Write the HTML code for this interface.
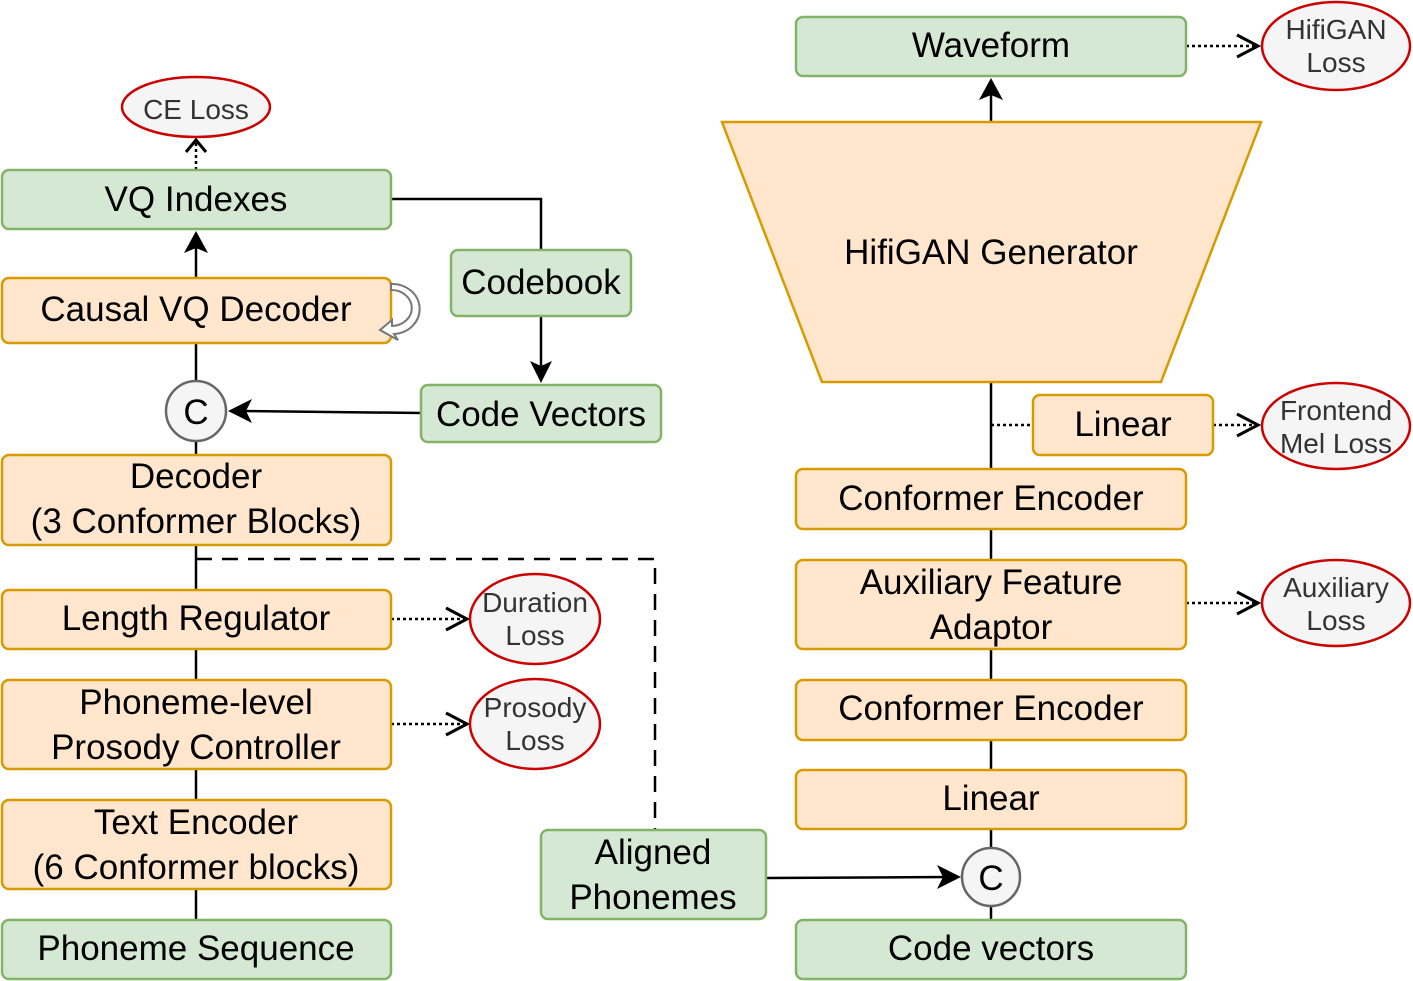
<!DOCTYPE html>
<html><head><meta charset="utf-8"><style>body{margin:0;background:#fff}svg{display:block}text{font-family:"Liberation Sans",Arial,sans-serif}</style></head><body>
<svg width="1413" height="981" viewBox="0 0 1413 981" xmlns="http://www.w3.org/2000/svg">
<g stroke="#000" stroke-width="2.5" fill="none">
<line x1="196" y1="278" x2="196" y2="240"/>
<line x1="196" y1="343" x2="196" y2="381"/>
<line x1="196" y1="441" x2="196" y2="455"/>
<line x1="196" y1="545" x2="196" y2="590"/>
<line x1="196" y1="649" x2="196" y2="680"/>
<line x1="196" y1="769" x2="196" y2="800"/>
<line x1="196" y1="889" x2="196" y2="920"/>
<polyline points="391,199 541,199 541,250"/>
<line x1="541" y1="316" x2="541" y2="372"/>
<line x1="421" y1="413" x2="240" y2="411"/>
<polyline points="196,559 655,559 655,830" stroke-dasharray="16,10"/>
<line x1="766" y1="878" x2="948" y2="877"/>
<line x1="991" y1="122" x2="991" y2="90"/>
<line x1="991" y1="382" x2="991" y2="469"/>
<line x1="991" y1="529" x2="991" y2="560"/>
<line x1="991" y1="649" x2="991" y2="680"/>
<line x1="991" y1="740" x2="991" y2="770"/>
<line x1="991" y1="829" x2="991" y2="848"/>
<line x1="991" y1="906" x2="991" y2="920"/>
<g stroke-dasharray="3,3">
<line x1="196" y1="170" x2="196" y2="142"/>
<line x1="391" y1="619" x2="466" y2="619"/>
<line x1="391" y1="724" x2="466" y2="724"/>
<line x1="1186" y1="46" x2="1257" y2="46"/>
<line x1="991" y1="425" x2="1033" y2="425"/>
<line x1="1213" y1="425" x2="1257" y2="425"/>
<line x1="1186" y1="603" x2="1257" y2="603"/>
</g>
<g stroke-width="3">
<polyline points="186,152 196,140 206,152"/>
<polyline points="446,608 467,619 446,630"/>
<polyline points="446,713 467,724 446,735"/>
<polyline points="1237,35 1258,46 1237,57"/>
<polyline points="1237,414 1258,425 1237,436"/>
<polyline points="1237,592 1258,603 1237,614"/>
</g>
</g>
<g fill="#000">
<path d="M196,231 L208,253 L196,248 L184,253 Z"/>
<path d="M991,78 L1003,100 L991,95 L979,100 Z"/>
<path d="M541,383 L530,361 L541,366 L552,361 Z"/>
<path d="M228,411 L252,399 L246,411 L252,423 Z"/>
<path d="M961,877 L937,865 L943,877 L937,889 Z"/>
</g>
<g stroke-width="2.5">
<g fill="#d5e8d4" stroke="#82b366">
<rect x="2" y="170" width="389" height="59" rx="7"/>
<rect x="2" y="920" width="389" height="59" rx="7"/>
<rect x="451" y="250" width="180" height="66" rx="7"/>
<rect x="421" y="385" width="240" height="57" rx="7"/>
<rect x="541" y="830" width="225" height="89" rx="7"/>
<rect x="796" y="17" width="390" height="59" rx="7"/>
<rect x="796" y="920" width="390" height="59" rx="7"/>
</g>
<g fill="#ffe6cc" stroke="#d79b00">
<rect x="2" y="278" width="389" height="65" rx="7"/>
<rect x="2" y="455" width="389" height="90" rx="7"/>
<rect x="2" y="590" width="389" height="59" rx="7"/>
<rect x="2" y="680" width="389" height="89" rx="7"/>
<rect x="2" y="800" width="389" height="89" rx="7"/>
<polygon points="722,122 1261,122 1161,382 822,382"/>
<rect x="1033" y="395" width="180" height="60" rx="7"/>
<rect x="796" y="469" width="390" height="60" rx="7"/>
<rect x="796" y="560" width="390" height="89" rx="7"/>
<rect x="796" y="680" width="390" height="60" rx="7"/>
<rect x="796" y="770" width="390" height="59" rx="7"/>
</g>
<g fill="#f5f5f5" stroke="#cc0000">
<ellipse cx="196" cy="107" rx="74" ry="30"/>
<ellipse cx="535" cy="619" rx="65" ry="45"/>
<ellipse cx="535" cy="724" rx="65" ry="45"/>
<ellipse cx="1336" cy="46" rx="74" ry="44"/>
<ellipse cx="1336" cy="426" rx="74" ry="43"/>
<ellipse cx="1336" cy="603" rx="74" ry="43"/>
</g>
<g fill="#f5f5f5" stroke="#666">
<circle cx="196" cy="411" r="30"/>
<circle cx="991" cy="877" r="29"/>
</g>
</g>
<path d="M391,284 A26,24 0 0 1 394,334 L398,340 L380,330 L392,320 L392,326 A18,16 0 0 0 391,290 Z" fill="#fff" stroke="#777" stroke-width="2"/>
<g font-size="35" text-anchor="middle" fill="#000">
<text x="196" y="211">VQ Indexes</text>
<text x="196" y="321">Causal VQ Decoder</text>
<text x="196" y="488">Decoder</text>
<text x="196" y="533">(3 Conformer Blocks)</text>
<text x="196" y="630">Length Regulator</text>
<text x="196" y="714">Phoneme-level</text>
<text x="196" y="759">Prosody Controller</text>
<text x="196" y="834">Text Encoder</text>
<text x="196" y="879">(6 Conformer blocks)</text>
<text x="196" y="960">Phoneme Sequence</text>
<text x="541" y="294">Codebook</text>
<text x="541" y="426">Code Vectors</text>
<text x="653" y="864">Aligned</text>
<text x="653" y="909">Phonemes</text>
<text x="991" y="57">Waveform</text>
<text x="991" y="264">HifiGAN Generator</text>
<text x="1123" y="436">Linear</text>
<text x="991" y="510">Conformer Encoder</text>
<text x="991" y="594">Auxiliary Feature</text>
<text x="991" y="639">Adaptor</text>
<text x="991" y="720">Conformer Encoder</text>
<text x="991" y="810">Linear</text>
<text x="991" y="960">Code vectors</text>
<text x="196" y="424">C</text>
<text x="991" y="890">C</text>
</g>
<g font-size="28" text-anchor="middle" fill="#333">
<text x="196" y="119">CE Loss</text>
<text x="535" y="612">Duration</text>
<text x="535" y="645">Loss</text>
<text x="535" y="717">Prosody</text>
<text x="535" y="750">Loss</text>
<text x="1336" y="39">HifiGAN</text>
<text x="1336" y="72">Loss</text>
<text x="1336" y="420">Frontend</text>
<text x="1336" y="453">Mel Loss</text>
<text x="1336" y="597">Auxiliary</text>
<text x="1336" y="630">Loss</text>
</g>
</svg>
</body></html>
